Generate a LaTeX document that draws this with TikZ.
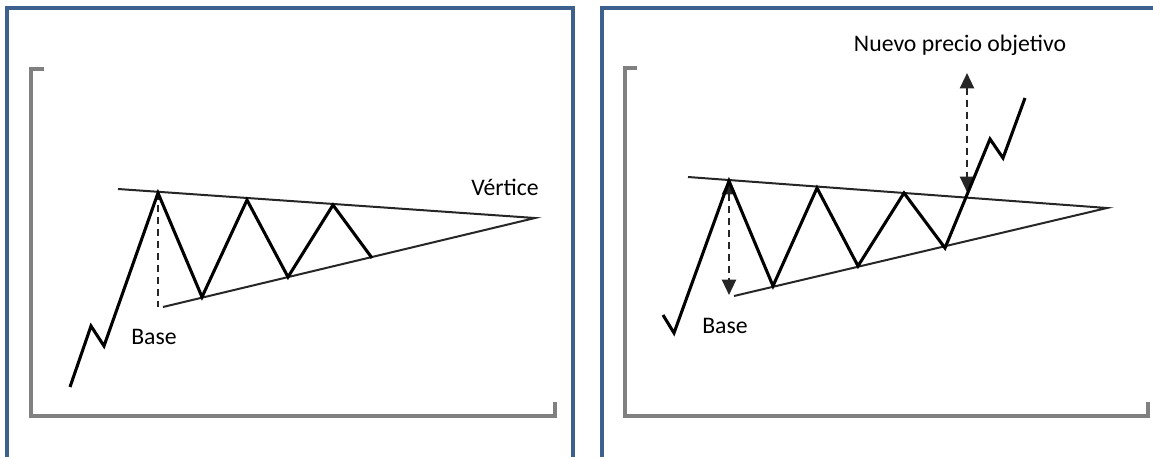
\documentclass[tikz,border=0pt]{standalone}
\usepackage{fontspec}
\setmainfont{Carlito}
\usetikzlibrary{arrows.meta}
\definecolor{panelblue}{RGB}{61,96,143}
\definecolor{axisgray}{RGB}{128,128,128}
\definecolor{arrowgray}{RGB}{38,38,38}
\begin{document}
\begin{tikzpicture}[x=0.75pt, y=-0.75pt,
  price/.style={line width=2.3pt, color=black},
  trend/.style={line width=1.5pt, color=black!85},
  frame/.style={line width=3pt, color=panelblue},
  axis/.style={line width=3pt, color=axisgray},
  target/.style={dash pattern=on 5.5pt off 3.5pt, line width=1.7pt, color=arrowgray},
  lbl/.style={font=\fontsize{17.8}{21}\selectfont, inner sep=0pt}]
  \useasboundingbox (0,0) rectangle (1153,457);
  % left panel: symmetric triangle
  \coordinate (l-0) at (70,387);
  \coordinate (l-1) at (91,326);
  \coordinate (l-2) at (104,346);
  \coordinate (l-3) at (158,193);
  \coordinate (l-4) at (202,297);
  \coordinate (l-5) at (247,200);
  \coordinate (l-6) at (288,277);
  \coordinate (l-7) at (333,205);
  \coordinate (l-8) at (372,258);
  \coordinate (l-top) at (118,189);
  \coordinate (l-low) at (163,307);
  \coordinate (l-base) at (158,307);
  \coordinate (l-apex) at (535,218);
  % right panel: breakout
  \coordinate (r-0) at (663,315);
  \coordinate (r-1) at (674,333);
  \coordinate (r-2) at (729,181);
  \coordinate (r-3) at (773,286);
  \coordinate (r-4) at (817,188);
  \coordinate (r-5) at (858,266);
  \coordinate (r-6) at (904,193);
  \coordinate (r-7) at (945,248);
  \coordinate (r-8) at (990,139);
  \coordinate (r-9) at (1003,158);
  \coordinate (r-10) at (1025,98);
  \coordinate (r-top) at (688,177);
  \coordinate (r-low) at (734,296);
  \coordinate (r-apex) at (1107,208);
  \coordinate (r-hi) at (729,179);
  \coordinate (r-base) at (729,295);
  \coordinate (t-hi) at (967,73);
  \coordinate (t-lo) at (967,192);
  % frames
  \draw [frame] (7,457) -- (7,8) -- (573,8) -- (573,457);
  \draw [frame] (602,457) -- (602,8) -- (1153,8);
  \draw [axis] (44,69) -- (31,69) -- (31,416) -- (555,416) -- (555,402);
  \draw [axis] (637,68) -- (625,68) -- (625,416) -- (1148,416) -- (1148,402);
  % trend lines
  \draw [trend] (l-top) -- (l-apex) -- (l-low);
  \draw [trend] (r-top) -- (r-apex) -- (r-low);
  \draw [target] (l-3) -- (l-base);
  \draw [target, {Triangle[length=11.5pt, width=10.5pt]}-{Triangle[length=11.5pt, width=10.5pt]}] (r-hi) -- (r-base);
  \draw [target, {Triangle[length=11.5pt, width=10.5pt]}-{Triangle[length=11.5pt, width=10.5pt]}] (t-hi) -- (t-lo);
  % prices
  \draw [price] (l-0) -- (l-1) -- (l-2) -- (l-3) -- (l-4) -- (l-5) -- (l-6) -- (l-7) -- (l-8);
  \draw [price] (r-0) -- (r-1) -- (r-2) -- (r-3) -- (r-4) -- (r-5) -- (r-6) -- (r-7) -- (r-8) -- (r-9) -- (r-10);
  % labels
  \node [lbl] (vertice) at (505,187) {Vértice};
  \node [lbl] (base-l) at (154,337) {Base};
  \node [lbl] (base-r) at (725,326) {Base};
  \node [lbl] (objetivo) at (960,45) {Nuevo precio objetivo};
\end{tikzpicture}
\end{document}
